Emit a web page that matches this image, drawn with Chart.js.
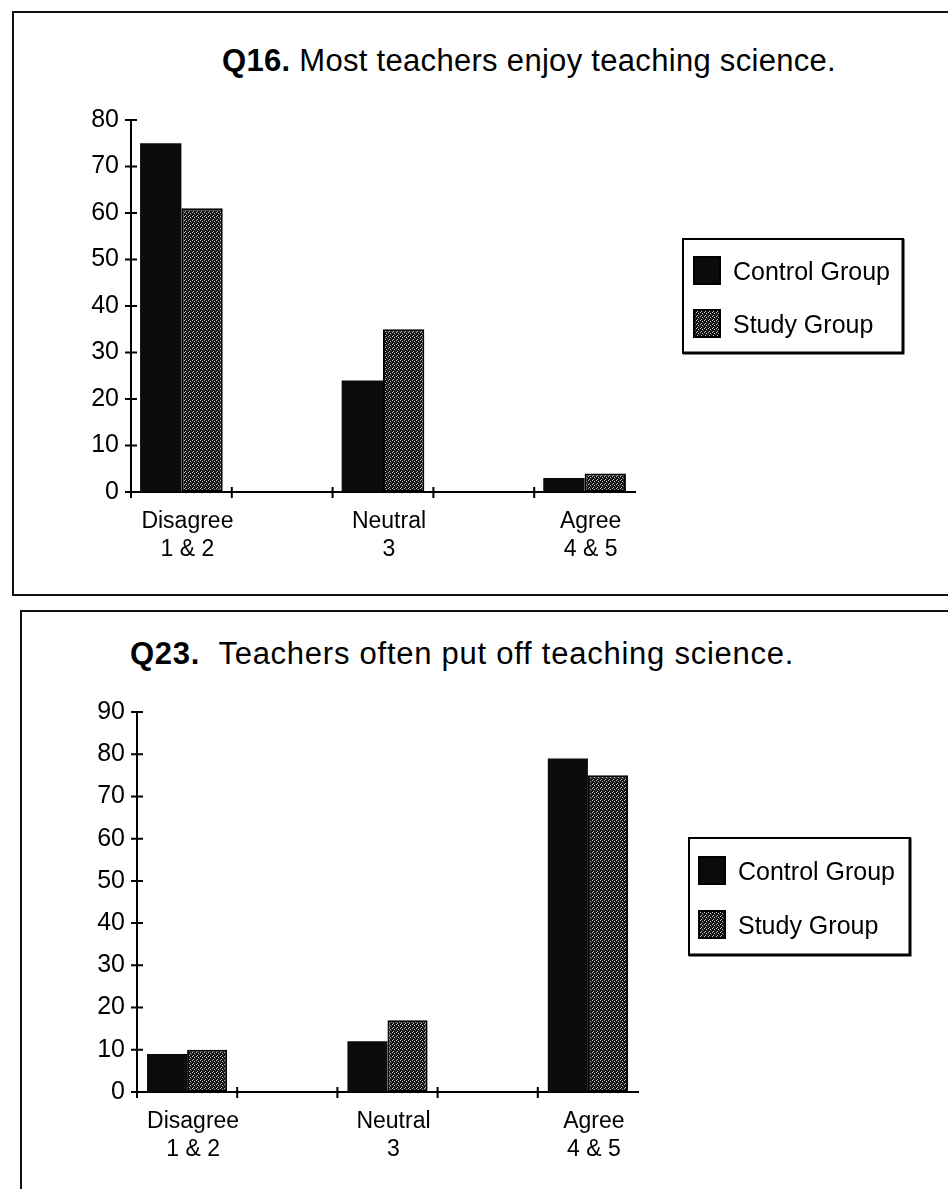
<!DOCTYPE html>
<html>
<head>
<meta charset="utf-8">
<script src="https://cdn.jsdelivr.net/npm/chart.js@4.4.1/dist/chart.umd.min.js"></script>
<style>
  html,body{margin:0;padding:0;background:#fff;}
  body{width:948px;height:1189px;position:relative;overflow:hidden;font-family:"Liberation Sans",Arial,Helvetica,sans-serif;color:#000;}
  .panel{position:absolute;border:2px solid #111;box-sizing:border-box;}
  #p1{left:12px;top:11px;width:960px;height:585px;}
  #p2{left:20px;top:610px;width:960px;height:620px;}
  .title{position:absolute;font-size:31px;line-height:31px;white-space:pre;letter-spacing:0.3px;}
  .title b{font-weight:bold;}
  #t1{left:222px;top:45px;}
  #t2{left:130px;top:638px;letter-spacing:0.75px;}
  canvas{position:absolute;left:0;}
  #wrap1{position:absolute;left:0;top:0;width:948px;height:600px;}
  #wrap2{position:absolute;left:0;top:600px;width:948px;height:589px;}
</style>
</head>
<body>
<div class="panel" id="p1"></div>
<div class="panel" id="p2"></div>
<div class="title" id="t1"><b>Q16.</b> Most teachers enjoy teaching science.</div>
<div class="title" id="t2"><b>Q23.</b>  Teachers often put off teaching science.</div>
<div id="wrap1"><canvas id="c1"></canvas></div>
<div id="wrap2"><canvas id="c2"></canvas></div>
<script>
// ---- data ----
const categories = [['Disagree', '1 & 2'], ['Neutral', '3'], ['Agree', '4 & 5']];
const seriesNames = ['Control Group', 'Study Group'];
const q16Control = [75, 24, 3];
const q16Study = [61, 35, 4];
const q23Control = [9, 12, 79];
const q23Study = [10, 17, 75];
const q16Ticks = [0, 10, 20, 30, 40, 50, 60, 70, 80];
const q23Ticks = [0, 10, 20, 30, 40, 50, 60, 70, 80, 90];

// ---- helpers ----
const FONT = '"Liberation Sans", Arial, Helvetica, sans-serif';

function stipple() {
  const c = document.createElement('canvas');
  c.width = 4; c.height = 4;
  const g = c.getContext('2d');
  g.fillStyle = '#121212'; g.fillRect(0, 0, 4, 4);
  g.fillStyle = '#bdbdbd';
  [[0,0],[2,1],[1,3]].forEach(([x,y]) => g.fillRect(x, y, 1, 1));
  g.fillStyle = '#5a5a5a';
  [[3,2]].forEach(([x,y]) => g.fillRect(x, y, 1, 1));
  return g.createPattern(c, 'repeat');
}
const studyFill = stipple();

// spaced category axis: blank category between each real one
function spacedLabels(cats) {
  const out = [];
  cats.forEach((c, i) => { if (i) out.push(''); out.push(c); });
  return out;
}
function spacedValues(vals) {
  const out = [];
  vals.forEach((v, i) => { if (i) out.push(null); out.push(v); });
  return out;
}

const crossTicks = {
  id: 'crossTicks',
  afterDraw(chart) {
    const {ctx, scales: {x, y}} = chart;
    const ax = x.left, base = y.bottom;
    ctx.save();
    ctx.strokeStyle = '#000';
    ctx.lineWidth = 2;
    ctx.beginPath();
    y.ticks.forEach((t, i) => {
      const py = y.getPixelForTick(i);
      ctx.moveTo(ax - 6, py); ctx.lineTo(ax + 6, py);
    });
    for (let i = 0; i < x.ticks.length; i++) {
      const px = x.getPixelForValue(i - 0.5);
      ctx.moveTo(px, base - 5); ctx.lineTo(px, base + 6);
    }
    ctx.stroke();
    ctx.restore();
  }
};

const boxLegend = {
  id: 'boxLegend',
  afterDraw(chart, args, o) {
    const {ctx} = chart;
    ctx.save();
    ctx.strokeStyle = '#000';
    ctx.lineWidth = 2;
    ctx.strokeRect(o.x, o.y, o.w, o.h);
    ctx.lineWidth = 3;
    ctx.beginPath();
    ctx.moveTo(o.x + o.w, o.y); ctx.lineTo(o.x + o.w, o.y + o.h); ctx.lineTo(o.x, o.y + o.h);
    ctx.stroke();
    chart.data.datasets.forEach((ds, i) => {
      const sy = o.y + o.top + i * o.step;
      ctx.fillStyle = ds.backgroundColor;
      ctx.fillRect(o.x + o.swX, sy, o.sw, o.sh);
      ctx.lineWidth = 2;
      ctx.strokeStyle = '#000';
      ctx.strokeRect(o.x + o.swX, sy, o.sw, o.sh);
      ctx.fillStyle = '#000';
      ctx.font = '25px ' + FONT;
      ctx.textBaseline = 'alphabetic';
      ctx.textAlign = 'left';
      ctx.fillText(ds.label, o.x + o.textX, sy + o.textBase);
    });
    ctx.restore();
  }
};

function makeChart(id, ctrl, study, ticks, pad, legendBox, catPct) {
  const yMax = ticks[ticks.length - 1];
  return new Chart(document.getElementById(id), {
    type: 'bar',
    data: {
      labels: spacedLabels(categories),
      datasets: [
        { label: seriesNames[0], data: spacedValues(ctrl), backgroundColor: '#0b0b0b',
          borderColor: '#000', borderWidth: 0, barPercentage: 1.0, categoryPercentage: catPct },
        { label: seriesNames[1], data: spacedValues(study), backgroundColor: studyFill,
          borderColor: '#000', borderWidth: 2, borderSkipped: false, barPercentage: 1.0, categoryPercentage: catPct }
      ]
    },
    options: {
      responsive: true,
      maintainAspectRatio: false,
      animation: false,
      events: [],
      layout: { padding: pad },
      plugins: {
        legend: { display: false },
        tooltip: { enabled: false },
        title: { display: false },
        boxLegend: legendBox
      },
      scales: {
        x: {
          type: 'category',
          offset: true,
          grid: { display: false, drawTicks: false, tickLength: 0, offset: true },
          border: { display: true, color: '#000', width: 2 },
          ticks: {
            color: '#000', font: { family: FONT, size: 23, lineHeight: 1.2 },
            padding: 16, labelOffset: 6, maxRotation: 0, autoSkip: false
          },
          afterFit(s) { s.height = 80; }
        },
        y: {
          min: 0, max: yMax,
          afterBuildTicks(s) { s.ticks = ticks.map(v => ({ value: v })); },
          grid: { display: false, drawTicks: false, tickLength: 0 },
          border: { display: true, color: '#000', width: 2 },
          ticks: { color: '#000', font: { family: FONT, size: 25 }, padding: 12 },
          afterFit(s) { s.width = 60; }
        }
      }
    },
    plugins: [crossTicks, boxLegend]
  });
}

makeChart('c1', q16Control, q16Study, q16Ticks,
  { left: 71, top: 120, right: 313, bottom: 28 },
  { x: 683, y: 239, w: 220, h: 114, swX: 11, sw: 26, sh: 27, top: 18, step: 53, textX: 50, textBase: 23 },
  0.82);

makeChart('c2', q23Control, q23Study, q23Ticks,
  { left: 77, top: 112, right: 310, bottom: 17 },
  { x: 689, y: 238, w: 221, h: 117, swX: 10, sw: 26, sh: 27, top: 19, step: 54, textX: 49, textBase: 23 },
  0.8);
</script>
</body>
</html>
